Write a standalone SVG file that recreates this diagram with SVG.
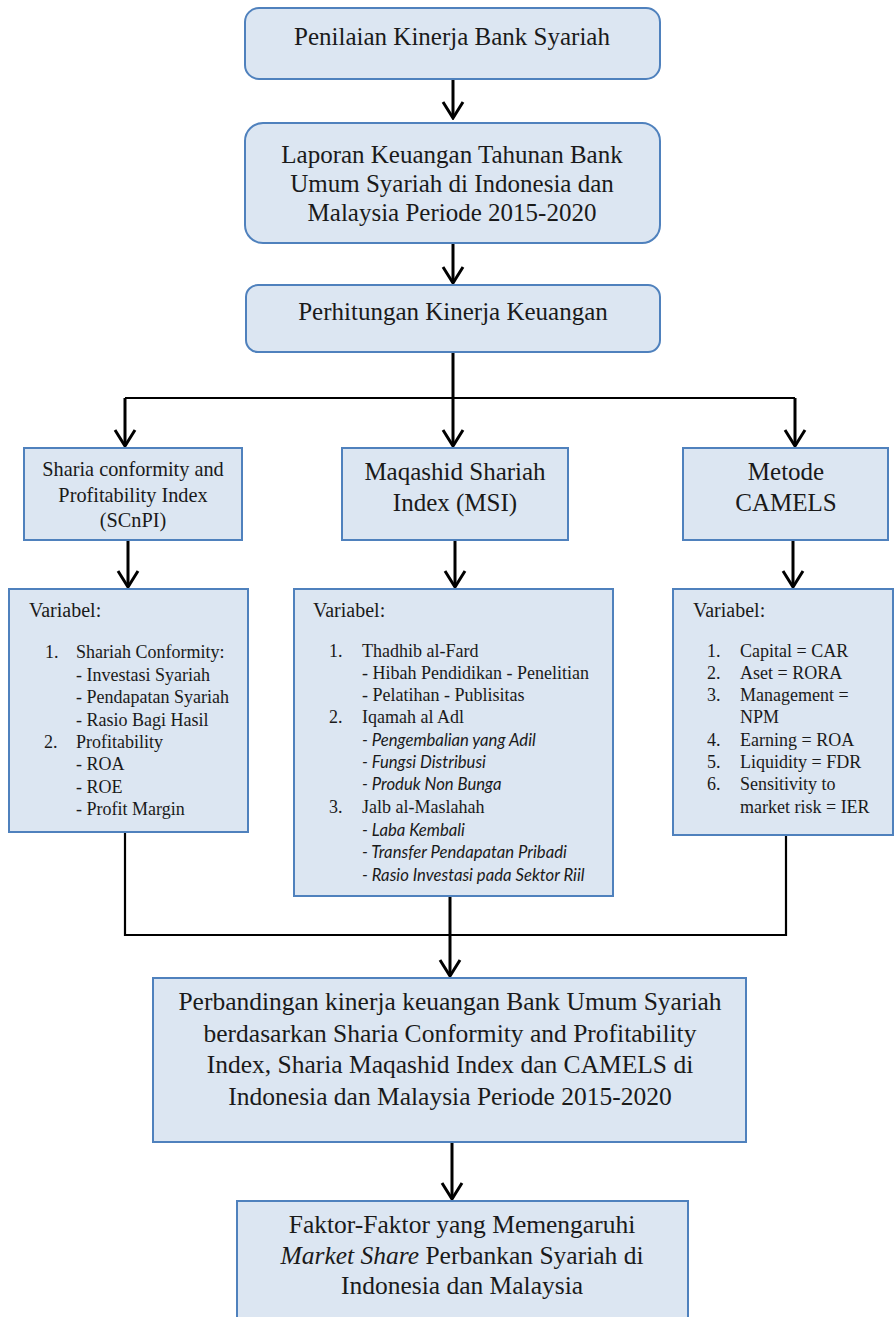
<svg xmlns="http://www.w3.org/2000/svg" width="895" height="1317" viewBox="0 0 895 1317">
<style>
.box{fill:#dce6f2;stroke:#4f81bd;stroke-width:2}
.t{font-family:"Liberation Serif","Times New Roman",serif;fill:#1a1a1a}
.c{text-anchor:middle}
.big{font-size:25px}
.mid{font-size:20.3px}
.sm{font-size:18px}
.var{font-size:20px}
.it{font-family:Lato,"Liberation Sans",sans-serif;font-style:italic;font-size:16.7px;fill:#1a1a1a}
.conn{stroke:#000;fill:none;stroke-width:3}
.thin{stroke-width:2.2}
</style>
<defs>
<marker id="arr" viewBox="0 0 20 24" refX="18" refY="12" markerWidth="20" markerHeight="24" markerUnits="userSpaceOnUse" orient="auto">
<path d="M2,2 L18,12 L2,22" fill="none" stroke="#000" stroke-width="3"/>
</marker>
</defs>
<rect width="895" height="1317" fill="#fff"/>
<g id="connectors">
<path class="conn" d="M453,79 L453,118" marker-end="url(#arr)"/>
<path class="conn" d="M453,243 L453,283" marker-end="url(#arr)"/>
<path class="conn" d="M453,352 L453,446" marker-end="url(#arr)"/>
<path class="conn thin" d="M125,398 L795,398"/>
<path class="conn" d="M125,398 L125,446" marker-end="url(#arr)"/>
<path class="conn" d="M795,398 L795,446" marker-end="url(#arr)"/>
<path class="conn" d="M128,540 L128,587" marker-end="url(#arr)"/>
<path class="conn" d="M455,540 L455,587" marker-end="url(#arr)"/>
<path class="conn" d="M793,540 L793,587" marker-end="url(#arr)"/>
<path class="conn thin" d="M125,832 L125,935 L786,935 L786,835"/>
<path class="conn" d="M450,896 L450,976" marker-end="url(#arr)"/>
<path class="conn" d="M452,1142 L452,1199" marker-end="url(#arr)"/>
</g>
<g id="n1">
<rect class="box" x="245" y="8" width="415" height="71" rx="14"/>
<text class="t big c" x="452" y="45">Penilaian Kinerja Bank Syariah</text>
</g>
<g id="n2">
<rect class="box" x="245" y="123" width="415" height="120" rx="18"/>
<text class="t big c" x="452" y="163">Laporan Keuangan Tahunan Bank</text>
<text class="t big c" x="452" y="192">Umum Syariah di Indonesia dan</text>
<text class="t big c" x="452" y="221">Malaysia Periode 2015-2020</text>
</g>
<g id="n3">
<rect class="box" x="246" y="285" width="414" height="67" rx="12"/>
<text class="t big c" x="453" y="320">Perhitungan Kinerja Keuangan</text>
</g>
<g id="n4">
<rect class="box" x="24" y="448" width="218" height="92"/>
<text class="t mid c" x="133" y="476">Sharia conformity and</text>
<text class="t mid c" x="133" y="502">Profitability Index</text>
<text class="t mid c" x="133" y="527">(SCnPI)</text>
</g>
<g id="n5">
<rect class="box" x="342" y="448" width="226" height="92"/>
<text class="t big c" x="455" y="480">Maqashid Shariah</text>
<text class="t big c" x="455" y="511">Index (MSI)</text>
</g>
<g id="n6">
<rect class="box" x="683" y="448" width="205" height="92"/>
<text class="t big c" x="786" y="480">Metode</text>
<text class="t big c" x="786" y="511">CAMELS</text>
</g>
<g id="n7">
<rect class="box" x="9" y="589" width="239" height="243"/>
<text class="t var" x="29" y="617">Variabel:</text>
<text class="t sm" x="45" y="658">1.</text>
<text class="t sm" x="76" y="658">Shariah Conformity:</text>
<text class="t sm" x="76" y="681">- Investasi Syariah</text>
<text class="t sm" x="76" y="703">- Pendapatan Syariah</text>
<text class="t sm" x="76" y="726">- Rasio Bagi Hasil</text>
<text class="t sm" x="44" y="748">2.</text>
<text class="t sm" x="76" y="748">Profitability</text>
<text class="t sm" x="76" y="770">- ROA</text>
<text class="t sm" x="76" y="793">- ROE</text>
<text class="t sm" x="76" y="815">- Profit Margin</text>
</g>
<g id="n8">
<rect class="box" x="294" y="589" width="319" height="307"/>
<text class="t var" x="313" y="617">Variabel:</text>
<text class="t sm" x="329" y="657">1.</text>
<text class="t sm" x="362" y="657">Thadhib al-Fard</text>
<text class="t sm" x="362" y="679">- Hibah Pendidikan - Penelitian</text>
<text class="t sm" x="362" y="701">- Pelatihan - Publisitas</text>
<text class="t sm" x="329" y="723">2.</text>
<text class="t sm" x="362" y="723">Iqamah al Adl</text>
<text class="it" x="362" y="746">- Pengembalian yang Adil</text>
<text class="it" x="362" y="768">- Fungsi Distribusi</text>
<text class="it" x="362" y="790">- Produk Non Bunga</text>
<text class="t sm" x="329" y="813">3.</text>
<text class="t sm" x="362" y="813">Jalb al-Maslahah</text>
<text class="it" x="362" y="836">- Laba Kembali</text>
<text class="it" x="362" y="858">- Transfer Pendapatan Pribadi</text>
<text class="it" x="362" y="881">- Rasio Investasi pada Sektor Riil</text>
</g>
<g id="n9">
<rect class="box" x="673" y="589" width="220" height="246"/>
<text class="t var" x="693" y="617">Variabel:</text>
<text class="t sm" x="707" y="657">1.</text>
<text class="t sm" x="740" y="657">Capital = CAR</text>
<text class="t sm" x="707" y="679">2.</text>
<text class="t sm" x="740" y="679">Aset = RORA</text>
<text class="t sm" x="707" y="701">3.</text>
<text class="t sm" x="740" y="701">Management =</text>
<text class="t sm" x="740" y="723">NPM</text>
<text class="t sm" x="707" y="746">4.</text>
<text class="t sm" x="740" y="746">Earning = ROA</text>
<text class="t sm" x="707" y="768">5.</text>
<text class="t sm" x="740" y="768">Liquidity = FDR</text>
<text class="t sm" x="707" y="790">6.</text>
<text class="t sm" x="740" y="790">Sensitivity to</text>
<text class="t sm" x="740" y="813">market risk = IER</text>
</g>
<g id="n10">
<rect class="box" x="153" y="978" width="593" height="164"/>
<text class="t c" font-size="25.5" x="450" y="1010">Perbandingan kinerja keuangan Bank Umum Syariah</text>
<text class="t c" font-size="25.5" x="450" y="1042">berdasarkan Sharia Conformity and Profitability</text>
<text class="t c" font-size="25.5" x="450" y="1073">Index, Sharia Maqashid Index dan CAMELS di</text>
<text class="t c" font-size="25.5" x="450" y="1105">Indonesia dan Malaysia Periode 2015-2020</text>
</g>
<g id="n11">
<rect class="box" x="237" y="1201" width="451" height="140"/>
<text class="t c" font-size="25.5" x="462" y="1233">Faktor-Faktor yang Memengaruhi</text>
<text class="t c" font-size="25.5" x="462" y="1264"><tspan font-style="italic">Market Share</tspan> Perbankan Syariah di</text>
<text class="t c" font-size="25.5" x="462" y="1294">Indonesia dan Malaysia</text>
</g>
</svg>
